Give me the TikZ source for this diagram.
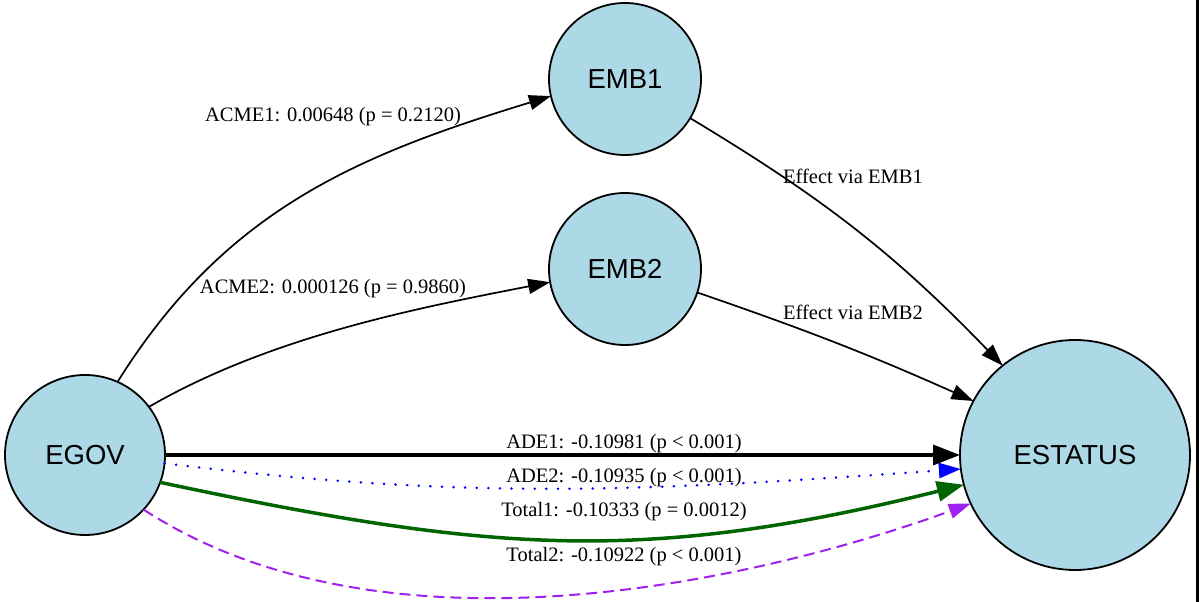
\documentclass[tikz,border=0pt]{standalone}
\usepackage{fontspec}
\setmainfont{Liberation Serif}
\setsansfont{Liberation Sans}
\usepackage{tikz}
\usetikzlibrary{arrows.meta,positioning,shapes.geometric}
\definecolor{nodeblue}{HTML}{ADD8E6}
\definecolor{pathgreen}{HTML}{006400}
\definecolor{pathpurple}{HTML}{A020F0}
\tikzstyle{var}=[circle, draw=black, fill=nodeblue, line width=1.8pt,
        inner sep=0pt, outer sep=0pt, font=\sffamily\fontsize{27.5}{32}\selectfont]
\tikzstyle{lbl}=[inner sep=0pt, font=\fontsize{20.5}{24}\selectfont]
\tikzstyle{thin}=[line width=1.7pt, -{Triangle[length=22pt, width=15pt]}]
\tikzstyle{fat}=[line width=3.5pt, -{Triangle[length=27pt, width=20pt]}]

\begin{document}
\begin{tikzpicture}[x=1pt, y=1pt]
        \useasboundingbox (0,0) rectangle (1200,602);

        \node[var, minimum size=160pt] (egov) at (85,147) {EGOV};
        \node[var, minimum size=152pt] (emb1) at (625,523) {EMB1};
        \node[var, minimum size=152pt] (emb2) at (625,333) {EMB2};
        \node[var, minimum size=230pt] (estatus) at (1075,147) {ESTATUS};

        \node[lbl] (acme1) at (333,485) {ACME1: 0.00648 (p = 0.2120)};
        \node[lbl] (acme2) at (333,313) {ACME2: 0.000126 (p = 0.9860)};
        \node[lbl] (via1) at (853,426) {Effect via EMB1};
        \node[lbl] (via2) at (853,290) {Effect via EMB2};
        \node[lbl] (ade1) at (624,158) {ADE1: -0.10981 (p < 0.001)};
        \node[lbl] (ade2) at (624,124) {ADE2: -0.10935 (p < 0.001)};
        \node[lbl] (total1) at (624,90) {Total1: -0.10333 (p = 0.0012)};
        \node[lbl] (total2) at (624,45) {Total2: -0.10922 (p < 0.001)};

        \draw[thin] (egov.66) to[out=58, in=197] (emb1.193);
        \draw[thin] (egov.37) to[out=30, in=191, looseness=0.85] (emb2.190);
        \draw[thin] (emb1.-31) to[out=-31, in=134] (estatus.129);
        \draw[thin] (emb2.-18) to[out=-19, in=156] (estatus.152);

        \draw[fat] (egov) -- (estatus);
        \draw[thin, blue, line width=2.7pt, line cap=round,
            dash pattern=on 0.1pt off 11.5pt]
            (egov.-6) to[out=-7, in=184] (estatus.187);
        \draw[fat, pathgreen] (egov.-20) to[out=-12, in=194, looseness=1.06]
            (estatus.195);
        \draw[thin, pathpurple, line width=2pt, dash pattern=on 11pt off 6pt]
            (egov.-43) to[out=-33, in=200, out distance=300pt,
            in distance=200pt] (estatus.205);

        \fill (1196,0) rectangle (1199,602);

    \end{tikzpicture}
\end{document}
